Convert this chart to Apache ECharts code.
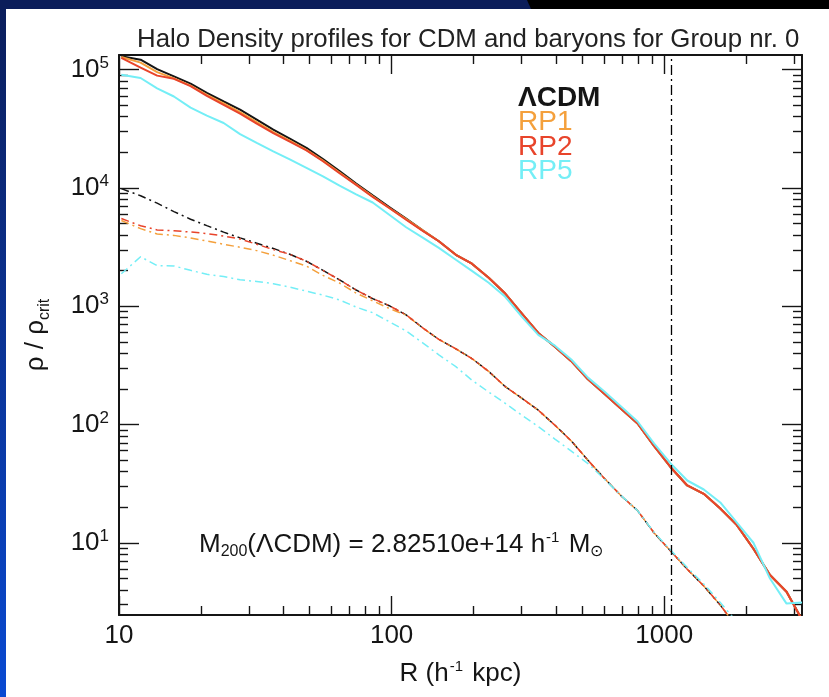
<!DOCTYPE html>
<html>
<head>
<meta charset="utf-8">
<script src="https://cdn.jsdelivr.net/npm/echarts@6/dist/echarts.min.js"></script>
<style>
  html, body { margin: 0; padding: 0; background: #fff; }
  #chart { width: 829px; height: 697px; }
</style>
</head>
<body>
<div id="chart"></div>
<script>
// Radial bins (h^-1 kpc)
const radius = [10.2, 12.0, 13.8, 15.9, 18.3, 21.0, 24.2, 27.8, 32.0, 36.8, 42.3, 48.7, 56.0, 64.4,
  74.1, 85.2, 98.0, 113, 130, 149, 172, 197, 227, 261, 300, 345, 397, 456, 525, 603, 694, 798,
  918, 1055, 1214, 1396, 1605, 1846, 2123, 2442, 2808, 3200];

// Total density profiles, rho / rho_crit
const lcdmTotal = [130000, 121500, 101000, 87800, 76200, 63700, 53800, 45900, 37800, 31100, 26100,
  21800, 17500, 13900, 10900, 8650, 6900, 5500, 4380, 3540, 2720, 2290, 1740, 1280, 871, 594, 455,
  343, 241, 182, 136, 102, 65.7, 43.5, 30.5, 25.9, 19.5, 14.1, 8.89, 5.33, 3.85, 2.24];
const rp1Total = [128000, 114600, 95200, 84400, 73300, 61300, 51800, 43700, 36000, 29600, 25100,
  21000, 17000, 13500, 10700, 8480, 6760, 5440, 4380, 3540, 2720, 2290, 1740, 1280, 871, 594, 455,
  343, 241, 182, 136, 102, 65.7, 43.5, 30.5, 25.9, 19.5, 14.1, 8.89, 5.33, 3.85, 2.24];
const rp2Total = [126000, 104000, 89000, 83600, 72600, 60100, 50400, 42500, 35000, 29100, 24600,
  20800, 16800, 13300, 10600, 8390, 6760, 5380, 4330, 3540, 2720, 2290, 1740, 1280, 871, 594, 455,
  343, 241, 182, 136, 102, 65.7, 43.5, 30.5, 25.9, 19.5, 14.1, 8.89, 5.33, 3.85, 2.24];
const rp5Total = [90700, 85000, 69500, 59300, 47700, 40800, 35400, 28500, 24000, 20400, 17400,
  14800, 12500, 10450, 8830, 7530, 5930, 4650, 3800, 3110, 2470, 1990, 1580, 1200, 817, 572, 464,
  354, 249, 190, 142, 106, 69.0, 46.8, 33.6, 28.2, 21.9, 14.8, 10.0, 4.98, 3.06, 3.12];

// Baryon density profiles, rho / rho_crit
const lcdmBaryon = [9860, 8580, 7430, 6310, 5440, 4800, 4230, 3780, 3410, 3080, 2750, 2400, 2010,
  1670, 1370, 1160, 1010, 846, 656, 524, 436, 361, 281, 209, 167, 132, 98.6, 72.6, 49.8, 35.0, 25.0,
  18.7, 12.1, 8.51, 5.98, 4.31, 2.97, 1.93, null, null, null, null];
const rp1Baryon = [5300, 4530, 4080, 3970, 3780, 3560, 3340, 3150, 2950, 2700, 2430, 2180, 1820,
  1570, 1290, 1110, 957, 840, 656, 524, 436, 361, 281, 209, 167, 132, 98.6, 72.6, 49.8, 35.0, 25.0,
  18.7, 12.1, 8.51, 5.98, 4.31, 2.97, 1.93, null, null, null, null];
const rp2Baryon = [5510, 4790, 4410, 4340, 4240, 4110, 3920, 3700, 3340, 3010, 2750, 2400, 2010,
  1670, 1370, 1160, 1010, 846, 656, 524, 436, 361, 281, 209, 167, 132, 98.6, 72.6, 49.8, 35.0, 25.0,
  18.7, 12.1, 8.51, 5.98, 4.31, 2.97, 1.93, null, null, null, null];
const rp5Baryon = [1880, 2620, 2200, 2190, 2010, 1860, 1780, 1670, 1620, 1550, 1450, 1340, 1240,
  1130, 983, 881, 739, 618, 490, 388, 308, 237, 188, 151, 120, 96.0, 75.3, 59.5, 46.7, 34.5, 25.1,
  18.7, 12.2, 8.67, 6.17, 4.48, 3.12, 2.15, null, null, null, null];

// Virial radius marker (h^-1 kpc)
const r200 = 1061;

// Axis ranges and tick values
const xRange = [10, 3200];
const yRange = [2.45, 133000];
const xMajor = [10, 100, 1000];
const xMinor = [20, 30, 40, 50, 60, 70, 80, 90, 200, 300, 400, 500, 600, 700, 800, 900, 2000, 3000];
const yMajor = [10, 100, 1000, 10000, 100000];
const yMinor = [3, 4, 5, 6, 7, 8, 9, 20, 30, 40, 50, 60, 70, 80, 90, 200, 300, 400, 500, 600, 700,
  800, 900, 2000, 3000, 4000, 5000, 6000, 7000, 8000, 9000, 20000, 30000, 40000, 50000, 60000,
  70000, 80000, 90000];

const models = ['ΛCDM', 'RP1', 'RP2', 'RP5'];
const colors = ['#151515', '#f4a03c', '#e8442b', '#74eef6'];

const FONT = "'Liberation Sans', Arial, Helvetica, sans-serif";
const INK = '#151515';

function pairs(values) {
  return radius.map((r, i) => [r, values[i]]);
}

function logAxis(dim, position, ticks, tickLen, withLine) {
  const range = dim === 'x' ? xRange : yRange;
  return {
    type: 'log', logBase: 10, position,
    min: range[0], max: range[1],
    axisLine: { show: withLine, onZero: false, lineStyle: { color: INK, width: 2 } },
    axisTick: { show: true, inside: true, length: tickLen, customValues: ticks,
      lineStyle: { color: INK, width: 1.4 } },
    axisLabel: { show: false },
    splitLine: { show: false },
    minorTick: { show: false },
    minorSplitLine: { show: false }
  };
}

const xBottom = logAxis('x', 'bottom', xMajor, 19, true);
xBottom.axisLabel = {
  show: true, customValues: xMajor, margin: 8, color: INK, fontSize: 26, fontFamily: FONT,
  formatter: v => String(Math.round(v))
};
xBottom.name = '{t|R (h}{s|-1}{t| kpc)}';
xBottom.nameLocation = 'middle';
xBottom.nameGap = 44;
xBottom.nameTextStyle = {
  color: INK, fontFamily: FONT,
  rich: {
    t: { fontSize: 26, lineHeight: 30, fontFamily: FONT, color: INK },
    s: { fontSize: 15, lineHeight: 30, verticalAlign: 'top', fontFamily: FONT, color: INK, padding: [0, 2, 0, 1] }
  }
};

const yLeft = logAxis('y', 'left', yMajor, 20, true);
yLeft.axisLabel = {
  show: true, customValues: yMajor, margin: 10, fontFamily: FONT, color: INK,
  formatter: v => '{b|10}{e|' + Math.round(Math.log10(v)) + '}',
  rich: {
    b: { fontSize: 26, lineHeight: 30, fontFamily: FONT, color: INK },
    e: { fontSize: 17, lineHeight: 17, verticalAlign: 'top', fontFamily: FONT, color: INK }
  }
};
yLeft.name = '{t|ρ / ρ}{s|crit}';
yLeft.nameLocation = 'middle';
yLeft.nameRotate = 90;
yLeft.nameGap = 66;
yLeft.nameTextStyle = {
  color: INK, fontFamily: FONT,
  rich: {
    t: { fontSize: 26, lineHeight: 34, fontFamily: FONT, color: INK },
    s: { fontSize: 16, lineHeight: 16, verticalAlign: 'bottom', fontFamily: FONT, color: INK }
  }
};

function lineSeries(name, values, color, dashed) {
  return {
    type: 'line', name, data: pairs(values),
    xAxisIndex: 0, yAxisIndex: 0,
    showSymbol: false, symbol: 'none', connectNulls: false, clip: true,
    lineStyle: dashed
      ? { color, width: 1.5, type: [8, 4, 2, 4] }
      : { color, width: 2 },
    itemStyle: { color },
    emphasis: { disabled: true },
    z: dashed ? 3 : 4
  };
}

const totals = [lcdmTotal, rp1Total, rp2Total, rp5Total];
const baryons = [lcdmBaryon, rp1Baryon, rp2Baryon, rp5Baryon];

const series = [];
models.forEach((m, i) => series.push(lineSeries(m, baryons[i], colors[i], true)));
models.forEach((m, i) => series.push(lineSeries(m, totals[i], colors[i], false)));

// dash-dot vertical marker at the virial radius
series[0].markLine = {
  silent: true, symbol: ['none', 'none'], label: { show: false },
  lineStyle: { color: '#000', width: 1.3, type: [10, 4, 2, 4] },
  data: [{ xAxis: r200 }]
};

const chart = echarts.init(document.getElementById('chart'), null, { renderer: 'canvas' });

chart.setOption({
  animation: false,
  backgroundColor: '#ffffff',
  title: {
    text: 'Halo Density profiles for CDM and baryons for Group nr. 0',
    left: 132, top: 22,
    textStyle: { fontFamily: FONT, fontSize: 25.8, fontWeight: 'normal', color: '#222' }
  },
  legend: {
    left: 508, top: 79, orient: 'vertical', selectedMode: false,
    icon: 'none', itemWidth: 0, itemHeight: 20, itemGap: -3.5,
    textStyle: { fontFamily: FONT, fontSize: 28 },
    data: models.map((m, i) => ({
      name: m,
      textStyle: { color: colors[i], fontWeight: i === 0 ? 'bold' : 'normal' }
    }))
  },
  grid: { left: 119, top: 55, right: 27, bottom: 82, containLabel: false },
  xAxis: [
    xBottom,
    logAxis('x', 'bottom', xMinor, 9, false),
    logAxis('x', 'top', xMajor, 19, true),
    logAxis('x', 'top', xMinor, 9, false)
  ],
  yAxis: [
    yLeft,
    logAxis('y', 'left', yMinor, 9, false),
    logAxis('y', 'right', yMajor, 20, true),
    logAxis('y', 'right', yMinor, 9, false)
  ],
  series,
  graphic: [
    {
      type: 'rect', left: 0, top: 0, silent: true, z: 10,
      shape: { x: 0, y: 0, width: 6, height: 697 },
      style: { fill: new echarts.graphic.LinearGradient(0, 0, 0, 1, [
        { offset: 0, color: '#0b1d5a' }, { offset: 1, color: '#0a4ad2' }]) }
    },
    {
      type: 'rect', silent: true, z: 10,
      shape: { x: 0, y: 0, width: 829, height: 9 },
      style: { fill: '#0b1d5a' }
    },
    {
      type: 'polygon', silent: true, z: 11,
      shape: { points: [[527, 0], [829, 0], [829, 9], [531, 9]] },
      style: { fill: '#000000' }
    },
    {
      type: 'text', left: 199, top: 530, silent: true, z: 5,
      style: {
        text: '{t|M}{d|200}{t|(ΛCDM) = 2.82510e+14 h}{u|-1}{t| M}{d|⊙}',
        fontFamily: FONT, fill: INK,
        rich: {
          t: { fontSize: 26, lineHeight: 30, fontFamily: FONT, fill: INK },
          d: { fontSize: 16, lineHeight: 16, verticalAlign: 'bottom', fontFamily: FONT, fill: INK },
          u: { fontSize: 15, lineHeight: 15, verticalAlign: 'top', fontFamily: FONT, fill: INK, padding: [0, 2, 0, 1] }
        }
      }
    }
  ]
});
</script>
</body>
</html>
